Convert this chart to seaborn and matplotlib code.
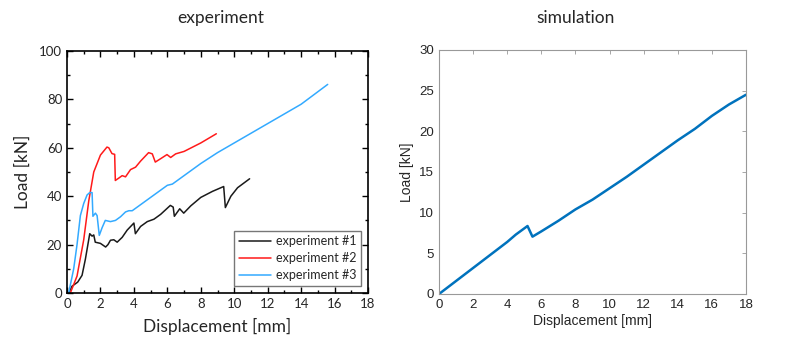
import numpy as np
import pandas as pd
import matplotlib
matplotlib.use("Agg")
import matplotlib.pyplot as plt
import seaborn as sns
from matplotlib.ticker import MultipleLocator

sns.set_theme(style="white")
plt.rcParams["font.family"] = ["Lato", "DejaVu Sans"]

# experiment #1 (black)
exp1_x = [0.1, 0.3, 0.64, 0.9, 1.1, 1.36, 1.5, 1.6, 1.69, 2.0, 2.31, 2.45, 2.6, 2.8, 3.0, 3.3,
          3.6, 4.0, 4.09, 4.4, 4.8, 5.2, 5.6, 6.18, 6.35, 6.42, 6.74, 6.98, 7.4, 8.0, 8.7, 9.37,
          9.47, 9.8, 10.2, 10.92]
exp1_y = [0.0, 2.8, 4.5, 7.3, 14.0, 24.5, 23.5, 24.0, 21.0, 20.5, 19.0, 20.0, 21.8, 22.0, 21.0, 23.0,
          26.0, 28.9, 24.5, 27.5, 29.5, 30.5, 32.5, 36.2, 35.5, 31.7, 34.8, 33.0, 36.0, 39.5, 42.0, 44.0,
          35.3, 40.0, 43.5, 47.2]

# experiment #2 (red)
exp2_x = [0.2, 0.6, 1.0, 1.3, 1.6, 2.0, 2.39, 2.5, 2.69, 2.85, 2.89, 3.1, 3.3, 3.5, 3.8, 4.1,
          4.4, 4.88, 5.1, 5.28, 5.6, 5.98, 6.2, 6.5, 7.0, 8.0, 8.93]
exp2_y = [0.0, 7.0, 22.0, 38.0, 50.0, 57.0, 60.3, 60.0, 57.6, 57.3, 46.5, 47.5, 48.5, 48.0, 51.0, 52.0,
          54.5, 58.0, 57.5, 54.1, 55.5, 57.2, 56.0, 57.5, 58.5, 62.0, 65.8]

# experiment #3 (blue)
exp3_x = [0.1, 0.4, 0.6, 0.8, 1.0, 1.2, 1.36, 1.5, 1.55, 1.7, 1.8, 1.93, 2.1, 2.29, 2.6, 2.9,
          3.2, 3.5, 3.7, 3.9, 4.5, 5.0, 5.5, 6.0, 6.3, 7.0, 8.0, 9.0, 10.0, 12.0, 14.0, 15.59]
exp3_y = [0.0, 10.0, 20.0, 32.0, 37.0, 40.5, 41.5, 41.5, 31.7, 33.0, 32.0, 23.8, 27.0, 30.0, 29.5, 30.0,
          31.5, 33.5, 34.0, 34.0, 37.0, 39.5, 42.0, 44.5, 45.0, 48.5, 53.5, 58.0, 62.0, 70.0, 78.0, 86.2]

# simulation
sim_x = [0.0, 1.0, 2.0, 3.0, 4.0, 4.5, 5.19, 5.48, 6.0, 7.0, 8.0, 9.0, 10.0, 11.0, 12.0, 13.0,
         14.0, 15.0, 16.0, 17.0, 18.0]
sim_y = [0.0, 1.6, 3.2, 4.8, 6.4, 7.3, 8.36, 7.05, 7.7, 9.0, 10.4, 11.6, 13.0, 14.4, 15.9, 17.4,
         18.9, 20.3, 21.9, 23.3, 24.5]

labels = ["experiment #1", "experiment #2", "experiment #3"]
colores = ["#1a1a1a", "#ff1a1a", "#33aaff"]

df = pd.concat([
    pd.DataFrame({"x": exp1_x, "y": exp1_y, "serie": labels[0]}),
    pd.DataFrame({"x": exp2_x, "y": exp2_y, "serie": labels[1]}),
    pd.DataFrame({"x": exp3_x, "y": exp3_y, "serie": labels[2]}),
])
df_sim = pd.DataFrame({"x": sim_x, "y": sim_y})

fig = plt.figure(figsize=(7.89, 3.5), dpi=100)
ax1 = fig.add_axes([67 / 789, 1 - 293 / 350, 301 / 789, 242 / 350])
ax2 = fig.add_axes([439 / 789, 1 - 294 / 350, 307 / 789, 244 / 350])

# painel do experimento (estilo Origin)
sns.lineplot(data=df, x="x", y="y", hue="serie", palette=colores, sort=False,
             estimator=None, linewidth=1.1, ax=ax1)
ax1.set_xlim(0, 18)
ax1.set_ylim(0, 100)
ax1.xaxis.set_major_locator(MultipleLocator(2))
ax1.xaxis.set_minor_locator(MultipleLocator(1))
ax1.yaxis.set_major_locator(MultipleLocator(20))
ax1.yaxis.set_minor_locator(MultipleLocator(10))
ax1.tick_params(which="both", direction="in", top=True, right=True, bottom=True, left=True,
                labelsize=9.5, color="black", width=1.0)
ax1.tick_params(which="major", length=4)
ax1.tick_params(which="minor", length=2.5)
for s in ax1.spines.values():
    s.set_edgecolor("black")
    s.set_linewidth(1.2)
ax1.set_xlabel("Displacement [mm]", fontsize=12.5, labelpad=6)
ax1.set_ylabel("Load [kN]", fontsize=12.5, labelpad=6)
leg = ax1.legend(loc="lower right", fontsize=9, frameon=True, fancybox=False,
                 handlelength=2.6, handletextpad=0.35, borderpad=0.35,
                 labelspacing=0.4, borderaxespad=0.6)
leg.get_frame().set_edgecolor("#555555")
leg.get_frame().set_linewidth(1.0)

# painel da simulacao (estilo MATLAB)
sns.lineplot(data=df_sim, x="x", y="y", color="#0072BD", linewidth=1.8, sort=False,
             estimator=None, ax=ax2)
ax2.set_xlim(0, 18)
ax2.set_ylim(0, 30)
ax2.xaxis.set_major_locator(MultipleLocator(2))
ax2.yaxis.set_major_locator(MultipleLocator(5))
ax2.tick_params(direction="in", top=True, right=True, length=3, labelsize=9.5,
                colors="#262626", color="#999999", width=0.6)
for lbl in ax2.get_xticklabels() + ax2.get_yticklabels():
    lbl.set_family(["Liberation Sans", "DejaVu Sans"])
for s in ax2.spines.values():
    s.set_edgecolor("#999999")
    s.set_linewidth(0.8)
ax2.set_xlabel("Displacement [mm]", fontsize=10, color="#262626", labelpad=2,
               family=["Liberation Sans", "DejaVu Sans"])
ax2.set_ylabel("Load [kN]", fontsize=10, color="#262626", labelpad=4,
               family=["Liberation Sans", "DejaVu Sans"])

fig.text(221 / 789, 1 - 18 / 350, "experiment", ha="center", va="center", fontsize=12.5)
fig.text(576 / 789, 1 - 18 / 350, "simulation", ha="center", va="center", fontsize=12.5)

fig.savefig("out.png", dpi=100)
